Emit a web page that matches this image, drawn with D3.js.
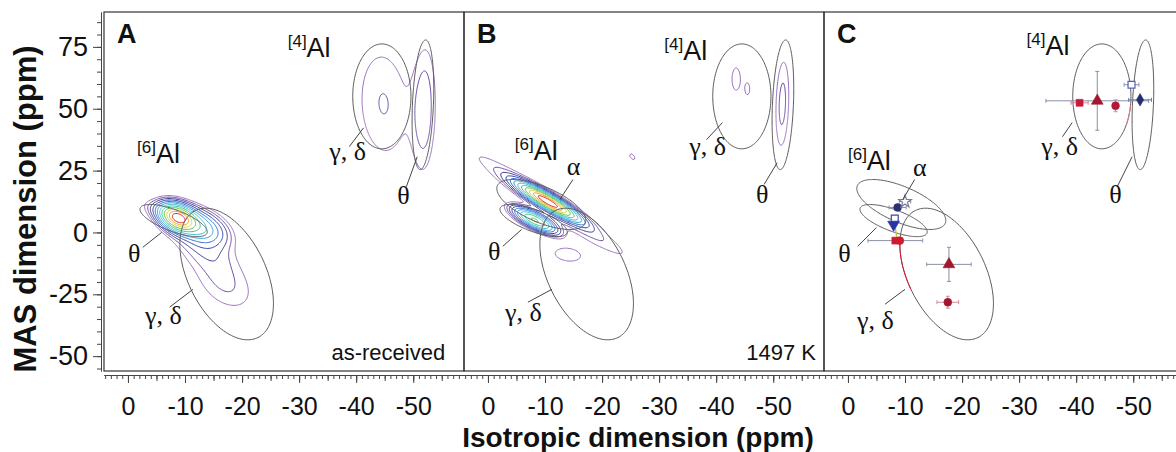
<!DOCTYPE html>
<html><head><meta charset="utf-8">
<script src="https://cdn.jsdelivr.net/npm/d3@7"></script>
<style>
html,body{margin:0;padding:0;background:#fff;}
svg{display:block;}
text{font-family:"Liberation Sans",Arial,sans-serif;fill:#111;}
</style></head><body>
<svg id="chart" width="1176" height="452"></svg>
<script>
// ---------------- data (ppm) ----------------
const panelIds = ["A", "B", "C"];
const xDomain = [4.2, -58.9];
const yDomain = [89.1, -56];
const xTickValues = [0, -10, -20, -30, -40, -50];
const yTickValues = [-50, -25, 0, 25, 50, 75];

// fitted site ellipses: centre, half extents along x / y, tilt (x offset of topmost point / half width)
const ellipseKeys = ["gd6", "theta6", "alpha6", "gd4", "theta4"];
const ellipseCx = [-17.3, -8.0, -9.35, -44.5, -51.7];
const ellipseCy = [-16.8, 4.8, 11.3, 55.0, 51.6];
const ellipseHx = [8.2, 5.9, 7.8, 5.1, 1.9];
const ellipseHy = [26.6, 6.5, 10.1, 21.2, 26.2];
const ellipseTilt = [0.45, 0.7, 0.64, 0.0, -0.25];
const ellipsesA = ["gd6", "theta6", "gd4", "theta4"];
const ellipsesB = ["gd6", "theta6", "alpha6", "gd4", "theta4"];
const ellipsesC = ["gd6", "theta6", "alpha6", "gd4", "theta4"];

// 3QMAS intensity components (panel, centre, widths, correlation, relative amplitude)
const peakPanel = ["A", "A", "A", "A", "A", "A", "A", "B", "B", "B", "B", "B", "B", "B", "B"];
const peakX   = [-8.7, -12.0, -6.5, -13.0, -17.0, -44.8, -52.0, -10.5, -8.2, -11.0, -14.0, -25.3, -43.5, -45.5, -51.6];
const peakY   = [6.0, 3.0, 8.0, -5.0, -21.0, 52.0, 50.0, 12.5, 5.0, 11.0, -9.0, 30.6, 62.0, 58.0, 52.0];
const peakSx  = [1.8, 3.0, 2.5, 3.5, 4.0, 3.8, 1.5, 3.0, 2.2, 9.0, 3.0, 0.6, 0.8, 0.5, 1.0];
const peakSy  = [3.2, 4.5, 3.0, 7.0, 8.5, 19.0, 19.0, 4.2, 3.0, 14.0, 3.5, 1.5, 5.0, 3.0, 15.0];
const peakRho = [0.35, 0.45, 0.6, 0.5, 0.4, 0.1, -0.1, 0.9, 0.75, 0.97, 0.2, 0.5, 0.0, 0.0, -0.2];
const peakAmp = [1.0, 0.3, 0.06, 0.07, 0.05, 0.05, 0.06, 1.0, 0.5, 0.07, 0.035, 0.035, 0.04, 0.035, 0.05];

// contour levels (fraction of maximum) and their colours
const contourLevels = [0.025, 0.04, 0.06, 0.09, 0.13, 0.18, 0.25, 0.34, 0.45, 0.58, 0.72, 0.86];
const contourColors = ["#9a70c0", "#6d4fa3", "#3f3a92", "#2c3fb2", "#2f6ed2", "#2f9fe0", "#36c0d6", "#3cc48c", "#62c243", "#d6d832", "#f0a022", "#e42222"];

// panel C: fitted parameters with uncertainties
const siteShape  = ["square", "triangle", "circle", "squareOpen", "diamond", "circle", "starOpen", "squareOpen", "triangleDown", "circle", "square", "triangle", "circle"];
const siteX      = [-40.6, -43.7, -46.9, -49.7, -51.2, -8.7, -10.0, -8.2, -8.0, -9.1, -8.3, -17.7, -17.5];
const siteY      = [52.4, 53.2, 51.2, 59.7, 53.6, 10.1, 12.5, 5.6, 3.2, -3.3, -3.3, -12.9, -28.2];
const siteXerr   = [1.5, 9.0, 0.0, 1.3, 2.0, 1.5, 1.0, 0.0, 0.0, 0.0, 4.8, 3.9, 1.9];
const siteYerr   = [0.0, 11.9, 2.4, 0.0, 0.0, 0.0, 0.0, 0.0, 0.0, 0.0, 0.0, 6.9, 2.4];
const siteColor  = ["#c8183c", "#a3162e", "#b5173a", "#5262b8", "#232f6e", "#2b3072", "#7a7c9a", "#3a48a6", "#2a33a0", "#d01a30", "#d01a30", "#a3162e", "#a3162e"];
const siteErrCol = ["#d08898", "#8a90a8", "#d08898", "#8a90c8", "#6a78b8", "#8a90b0", "#8a90b0", "#8a90b0", "#8a90b0", "#d08898", "#8a90a8", "#8a90a8", "#d08898"];
const guideX1 = [-8.3], guideY1 = [2.0], guideX2 = [-8.6], guideY2 = [-3.0];
const arcKey = ["gd6", "gd4"], arcFrom = [-40, 190], arcTo = [2, 215];

// annotations
const greekPanel = ["A", "A", "A", "A", "B", "B", "B", "B", "B", "C", "C", "C", "C", "C"];
const greekText  = ["γ, δ", "θ", "θ", "γ, δ", "γ, δ", "θ", "α", "θ", "γ, δ", "γ, δ", "θ", "α", "θ", "γ, δ"];
const greekX     = [-35.3, -47.2, 0.0, -3.0, -35.3, -47.0, -13.8, 0.0, -3.0, -33.9, -45.8, -11.4, 1.7, -1.6];
const greekY     = [29.4, 11.3, -12.1, -37.1, 31.5, 12.1, 23.4, -11.3, -35.9, 31.5, 12.1, 23.0, -12.1, -39.1];
const leaderPanel = ["A", "A", "A", "A", "B", "B", "B", "B", "B", "C", "C", "C", "C", "C"];
const leaderX1 = [-38.8, -48.8, -2.6, -7.3, -38.3, -48.4, -14.9, -2.6, -7.0, -37.6, -47.2, -11.7, -1.7, -6.5];
const leaderY1 = [34.7, 18.5, -6.0, -30.2, 37.5, 19.4, 21.4, -5.6, -28.2, 38.7, 18.5, 21.4, -5.6, -29.0];
const leaderX2 = [-41.3, -50.7, -5.9, -11.4, -41.1, -50.7, -12.6, -5.9, -11.2, -39.3, -49.8, -9.6, -5.0, -10.0];
const leaderY2 = [42.3, 30.6, 0.0, -23.0, 44.4, 28.2, 13.3, 1.2, -23.0, 44.4, 30.6, 13.3, 2.0, -23.0];
const sitePanel = ["A", "A", "B", "B", "C", "C"];
const siteCN    = ["4", "6", "4", "6", "4", "6"];
const siteLabX  = [-28.0, -1.6, -30.9, -4.7, -31.3, 0.0];
const siteLabY  = [71.0, 28.2, 69.8, 29.4, 71.8, 25.4];
const notePanel = ["A", "B"];
const noteText  = ["as-received", "1497 K"];
const noteX     = [-55.6, -57.5];
const noteY     = [-51.6, -51.6];
const letterX = 1.9, letterY = 76.6;

// ---------------- layout ----------------
const svg = d3.select("#chart");
const plotTop = 12, plotBottom = 371, panelW = 360;
const panelLeft = [104, 464, 824];
const y = d3.scaleLinear().domain(yDomain).range([plotTop, plotBottom]);
const xScales = panelLeft.map(l => d3.scaleLinear().domain(xDomain).range([l, l + panelW]));
const fmt = d => String(d);

// intensity grid
const gx0 = 6, gdx = 0.2, nx = 336;
const gy0 = 92, gdy = 0.4, ny = 376;

function ellipsePoints(k, t0 = 0, t1 = 360) {
  const i = ellipseKeys.indexOf(k);
  const del = Math.acos(ellipseTilt[i]);
  return d3.range(t0, t1 + 0.001, 2).map(deg => {
    const t = deg * Math.PI / 180;
    return [ellipseCx[i] + ellipseHx[i] * Math.cos(t), ellipseCy[i] + ellipseHy[i] * Math.cos(t - del)];
  });
}

const defs = svg.append("defs");

panelIds.forEach((pid, p) => {
  const x = xScales[p];
  const g = svg.append("g").attr("class", "panel-" + pid);
  defs.append("clipPath").attr("id", "clip" + pid)
    .append("rect").attr("x", panelLeft[p]).attr("y", plotTop).attr("width", panelW).attr("height", plotBottom - plotTop);
  const inner = g.append("g").attr("clip-path", `url(#clip${pid})`);

  // contours
  const idx = d3.range(peakPanel.length).filter(i => peakPanel[i] === pid);
  if (idx.length) {
    const vals = new Float64Array(nx * ny);
    const pre = idx.map(i => ({x: peakX[i], y: peakY[i], sx: peakSx[i], sy: peakSy[i], r: peakRho[i], a: peakAmp[i]}));
    for (let j = 0; j < ny; j++) {
      const yy = gy0 - j * gdy;
      for (let i = 0; i < nx; i++) {
        const xx = gx0 - i * gdx;
        let s = 0;
        for (const c of pre) {
          const dx = (xx - c.x) / c.sx, dy = (yy - c.y) / c.sy;
          const q = (dx * dx - 2 * c.r * dx * dy + dy * dy) / (1 - c.r * c.r);
          if (q < 60) s += c.a * Math.exp(-0.5 * q);
        }
        vals[j * nx + i] = s;
      }
    }
    const mx = d3.max(vals);
    const contours = d3.contours().size([nx, ny]).thresholds(contourLevels.map(l => l * mx))(vals);
    const proj = d3.geoTransform({
      point(px, py) { this.stream.point(x(gx0 - (px - 0.5) * gdx), y(gy0 - (py - 0.5) * gdy)); }
    });
    const path = d3.geoPath(proj);
    inner.append("g").selectAll("path").data(contours).join("path")
      .attr("d", path).attr("fill", "none")
      .attr("stroke", (d, i) => contourColors[i]).attr("stroke-width", 1);
  }

  // ellipses
  const line = d3.line().x(d => x(d[0])).y(d => y(d[1]));
  const ell = pid === "A" ? ellipsesA : pid === "B" ? ellipsesB : ellipsesC;
  inner.append("g").selectAll("path").data(ell).join("path")
    .attr("d", k => line(ellipsePoints(k)) + "Z")
    .attr("fill", "none").attr("stroke", "#5a5a5a").attr("stroke-width", 1);

  if (pid === "C") {
    inner.append("g").selectAll("path").data(arcKey).join("path")
      .attr("d", (k, i) => line(ellipsePoints(k, arcFrom[i], arcTo[i])))
      .attr("fill", "none").attr("stroke", (k, i) => i === 0 ? "#d01a30" : "#e07a90").attr("stroke-width", 1);
    const mk = inner.append("g");
    guideX1.forEach((gx, i) => {
      mk.append("line").attr("x1", x(gx)).attr("y1", y(guideY1[i])).attr("x2", x(guideX2[i])).attr("y2", y(guideY2[i]))
        .attr("stroke", "#b4d040").attr("stroke-width", 1.3);
    });
    siteX.forEach((sx, i) => {
      const cx = x(sx), cy = y(siteY[i]);
      if (siteXerr[i] > 0) {
        mk.append("line").attr("x1", x(sx + siteXerr[i])).attr("x2", x(sx - siteXerr[i])).attr("y1", cy).attr("y2", cy)
          .attr("stroke", siteErrCol[i]).attr("stroke-width", 1);
        [sx + siteXerr[i], sx - siteXerr[i]].forEach(e => mk.append("line").attr("x1", x(e)).attr("x2", x(e)).attr("y1", cy - 2).attr("y2", cy + 2).attr("stroke", siteErrCol[i]));
      }
      if (siteYerr[i] > 0) {
        mk.append("line").attr("x1", cx).attr("x2", cx).attr("y1", y(siteY[i] + siteYerr[i])).attr("y2", y(siteY[i] - siteYerr[i]))
          .attr("stroke", siteErrCol[i]).attr("stroke-width", 1);
        [siteY[i] + siteYerr[i], siteY[i] - siteYerr[i]].forEach(e => mk.append("line").attr("x1", cx - 2).attr("x2", cx + 2).attr("y1", y(e)).attr("y2", y(e)).attr("stroke", siteErrCol[i]));
      }
    });
    siteX.forEach((sx, i) => {
      const sh = siteShape[i];
      const type = sh.startsWith("square") ? d3.symbolSquare : sh.startsWith("triangle") ? d3.symbolTriangle
        : sh === "diamond" ? d3.symbolDiamond : sh === "starOpen" ? d3.symbolStar : d3.symbolCircle;
      const open = sh.endsWith("Open");
      const size = sh === "diamond" ? 45 : sh.startsWith("triangle") ? 60 : 48;
      mk.append("path").attr("d", d3.symbol().type(type).size(size)())
        .attr("transform", `translate(${x(sx)},${y(siteY[i])})` + (sh === "triangleDown" ? " rotate(180)" : ""))
        .attr("fill", open ? "#fff" : siteColor[i])
        .attr("stroke", siteColor[i]).attr("stroke-width", open ? 1.2 : 0.6);
    });
  }

  // leader lines
  const li = d3.range(leaderPanel.length).filter(i => leaderPanel[i] === pid);
  g.append("g").selectAll("line").data(li).join("line")
    .attr("x1", i => x(leaderX1[i])).attr("y1", i => y(leaderY1[i]))
    .attr("x2", i => x(leaderX2[i])).attr("y2", i => y(leaderY2[i]))
    .attr("stroke", "#444").attr("stroke-width", 1);

  // greek labels
  const gi = d3.range(greekPanel.length).filter(i => greekPanel[i] === pid);
  g.append("g").selectAll("text").data(gi).join("text")
    .attr("x", i => x(greekX[i])).attr("y", i => y(greekY[i]))
    .style("font-family", '"Liberation Serif","Times New Roman",serif').attr("font-size", 26)
    .text(i => greekText[i]);

  // coordination labels
  d3.range(sitePanel.length).filter(i => sitePanel[i] === pid).forEach(i => {
    const t = g.append("text").attr("x", x(siteLabX[i])).attr("y", y(siteLabY[i]));
    t.append("tspan").attr("font-size", 17).attr("dy", -10).text(`[${siteCN[i]}]`);
    t.append("tspan").attr("font-size", 27).attr("dy", 10).text("Al");
  });

  // notes
  d3.range(notePanel.length).filter(i => notePanel[i] === pid).forEach(i => {
    g.append("text").attr("x", x(noteX[i])).attr("y", y(noteY[i])).attr("text-anchor", "end")
      .attr("font-size", 22).text(noteText[i]);
  });

  // panel letter
  g.append("text").attr("x", x(letterX)).attr("y", y(letterY)).attr("font-size", 27).attr("font-weight", "bold").text(pid);

  // frame
  g.append("rect").attr("x", panelLeft[p]).attr("y", plotTop).attr("width", panelW).attr("height", plotBottom - plotTop)
    .attr("fill", "none").attr("stroke", "#333").attr("stroke-width", 1.2);

  // x axis
  const axY = plotBottom + 4;
  const ax = svg.append("g").attr("transform", `translate(0,${axY})`);
  ax.append("g").call(d3.axisBottom(x).tickValues(d3.range(-58, 5, 1)).tickSize(4).tickSizeOuter(0))
    .call(s => s.selectAll("text").remove());
  ax.append("g").call(d3.axisBottom(x).tickValues(d3.range(-55, 5, 5)).tickSize(6).tickSizeOuter(0))
    .call(s => s.selectAll("text").remove());
  const major = ax.append("g").call(d3.axisBottom(x).tickValues(xTickValues).tickSize(8).tickSizeOuter(0).tickPadding(14).tickFormat(fmt));
  major.selectAll("text").attr("font-size", 25).style("font-family", '"Liberation Sans Narrow","Arial Narrow","Liberation Sans",sans-serif').attr("fill", "#111");
  ax.selectAll(".domain, .tick line").attr("stroke", "#444");
});

// y axis
const ay = svg.append("g").attr("transform", "translate(101,0)");
ay.append("g").call(d3.axisLeft(y).tickValues(d3.range(-55, 90, 5)).tickSize(4).tickSizeOuter(0))
  .call(s => s.selectAll("text").remove());
const yMaj = ay.append("g").call(d3.axisLeft(y).tickValues(yTickValues).tickSize(8).tickSizeOuter(0).tickPadding(5).tickFormat(fmt));
yMaj.selectAll("text").attr("font-size", 27).style("font-family", '"Liberation Sans",Arial,sans-serif').attr("fill", "#111");
ay.selectAll(".domain, .tick line").attr("stroke", "#444");

// axis titles
svg.append("text").attr("transform", "translate(36,209) rotate(-90)")
  .attr("text-anchor", "middle").attr("font-size", 31).attr("font-weight", "bold").text("MAS dimension (ppm)");
svg.append("text").attr("x", 638).attr("y", 447).attr("text-anchor", "middle")
  .attr("font-size", 28).attr("font-weight", "bold").text("Isotropic dimension (ppm)");
</script>
</body></html>
